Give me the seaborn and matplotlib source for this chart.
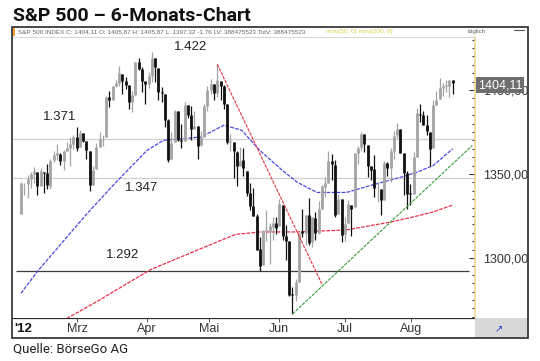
import matplotlib
matplotlib.use("Agg")
import matplotlib.pyplot as plt
import seaborn as sns
import pandas as pd
from matplotlib.patches import Rectangle

kurs_open = [
    1326.2, 1344.3, 1344.3, 1347.0, 1350.0, 1351.2, 1343.1, 1351.3, 1350.5, 1342.6, 1358.1, 1361.2, 1362.1, 1357.5, 1363.5, 1365.2, 1367.6, 1372.2,
    1365.9, 1374.1, 1369.6, 1363.6, 1343.4, 1352.7, 1365.9, 1370.8, 1371.9, 1395.9, 1394.2, 1402.6, 1404.2, 1409.6, 1405.5, 1402.9, 1392.8, 1397.1, 1416.6, 1412.5, 1405.4, 1403.3,
    1408.5, 1419.0, 1413.1, 1398.8, 1397.5, 1382.2, 1359.0, 1368.8, 1387.6, 1370.3, 1369.6, 1390.8, 1385.1, 1377.0, 1378.5, 1367.0, 1372.1, 1390.6, 1400.2, 1403.3,
    1397.9, 1405.5, 1402.3, 1391.5, 1368.8, 1369.2, 1363.2, 1354.6, 1358.1, 1351.9, 1338.4, 1330.8, 1324.8, 1305.1, 1295.7, 1316.1, 1316.0, 1318.7, 1320.6, 1318.9, 1331.3, 1313.1,
    1309.9, 1278.3, 1277.8, 1285.6, 1316.2, 1315.0, 1325.7, 1309.4, 1324.0, 1314.9, 1329.2, 1342.4, 1344.8, 1358.0, 1355.4, 1325.9, 1334.9, 1314.1, 1320.7, 1331.5, 1330.1,
    1362.3, 1365.8, 1373.7, 1367.1, 1354.7, 1353.0, 1341.4, 1341.3, 1334.8, 1356.5, 1353.7, 1363.6, 1373.0, 1376.5, 1362.3, 1350.5, 1338.4, 1338.2, 1360.1, 1385.9, 1385.3,
    1379.3, 1375.1, 1365.5, 1391.0, 1394.5, 1401.2, 1402.3, 1402.6, 1405.9,
]
kurs_high = [
    1345.3, 1344.4, 1349.2, 1351.0, 1354.3, 1351.2, 1353.4, 1351.3, 1355.9, 1359.0, 1363.4, 1367.8, 1362.7, 1364.2, 1368.9, 1371.9, 1373.1, 1378.0,
    1376.2, 1374.5, 1369.6, 1363.6, 1354.9, 1368.7, 1374.8, 1373.0, 1396.1, 1399.4, 1402.6, 1405.9, 1414.0, 1409.6, 1407.8, 1402.9, 1399.2, 1416.6, 1419.2, 1413.7, 1405.4, 1410.9,
    1422.4, 1419.0, 1413.1, 1401.6, 1397.5, 1383.0, 1374.7, 1388.1, 1387.6, 1379.7, 1392.8, 1390.8, 1390.5, 1387.4, 1378.5, 1375.6, 1391.4, 1402.1, 1406.6, 1403.3,
    1415.3, 1405.5, 1403.1, 1391.5, 1373.9, 1369.2, 1363.7, 1365.9, 1365.7, 1351.9, 1344.9, 1341.8, 1326.4, 1312.2, 1316.4, 1328.5, 1320.7, 1324.1, 1324.2, 1334.9, 1331.3, 1319.7,
    1309.9, 1282.6, 1287.6, 1315.1, 1329.1, 1325.8, 1335.5, 1324.3, 1327.3, 1333.7, 1343.3, 1348.2, 1363.5, 1361.6, 1358.3, 1337.8, 1334.9, 1324.2, 1334.4, 1331.5, 1362.2,
    1366.4, 1374.8, 1373.9, 1367.1, 1354.9, 1361.5, 1345.0, 1341.3, 1357.7, 1357.3, 1365.4, 1375.3, 1380.4, 1376.5, 1362.3, 1351.5, 1344.0, 1363.1, 1389.2, 1391.7, 1387.2,
    1385.0, 1375.1, 1394.2, 1399.6, 1407.1, 1404.1, 1406.0, 1406.0, 1405.9,
]
kurs_low = [
    1326.2, 1337.5, 1335.9, 1341.9, 1344.6, 1337.4, 1343.1, 1338.5, 1340.8, 1341.2, 1357.2, 1358.1, 1355.5, 1352.3, 1363.5, 1354.9, 1365.0, 1363.8,
    1365.9, 1368.9, 1359.1, 1340.0, 1343.4, 1352.7, 1365.9, 1366.7, 1371.9, 1389.7, 1394.2, 1401.5, 1402.4, 1397.7, 1400.6, 1388.7, 1386.9, 1397.1, 1411.9, 1398.6, 1391.6, 1401.4,
    1404.5, 1404.6, 1394.1, 1392.9, 1378.2, 1357.4, 1359.0, 1368.8, 1369.9, 1365.4, 1369.6, 1383.3, 1370.3, 1377.0, 1358.8, 1366.8, 1372.1, 1387.4, 1397.3, 1394.0,
    1395.7, 1393.9, 1388.7, 1368.0, 1363.9, 1347.8, 1343.1, 1354.6, 1348.9, 1336.6, 1328.4, 1324.8, 1304.9, 1292.0, 1295.7, 1310.0, 1296.5, 1310.5, 1314.2, 1318.9, 1310.8, 1298.9,
    1277.3, 1266.7, 1274.2, 1285.6, 1312.7, 1307.8, 1307.7, 1306.6, 1310.5, 1314.1, 1329.2, 1336.4, 1344.8, 1346.5, 1324.4, 1325.9, 1309.3, 1310.3, 1320.7, 1313.3, 1330.1,
    1355.7, 1363.5, 1363.0, 1348.0, 1346.7, 1336.3, 1333.2, 1325.4, 1334.8, 1348.5, 1345.1, 1359.0, 1371.2, 1362.2, 1337.6, 1329.2, 1331.5, 1338.2, 1360.1, 1381.0, 1379.2,
    1373.1, 1354.7, 1365.5, 1391.0, 1394.5, 1396.6, 1398.8, 1395.6, 1397.3,
]
kurs_close = [
    1344.9, 1344.3, 1347.1, 1350.0, 1352.0, 1342.6, 1351.8, 1350.5, 1343.2, 1358.0, 1361.2, 1362.2, 1357.7, 1363.5, 1365.7, 1367.6, 1372.2, 1365.7,
    1374.1, 1369.6, 1364.3, 1343.4, 1352.6, 1365.9, 1370.9, 1371.1, 1396.0, 1394.3, 1402.6, 1404.2, 1409.8, 1405.5, 1402.9, 1392.8, 1397.1, 1416.5, 1412.5, 1405.5, 1403.3, 1408.5,
    1419.0, 1413.4, 1399.0, 1398.1, 1382.2, 1358.6, 1368.7, 1387.6, 1370.3, 1369.6, 1390.8, 1385.1, 1376.9, 1378.5, 1366.9, 1372.0, 1390.7, 1400.0, 1403.4, 1397.9,
    1405.8, 1402.3, 1391.6, 1369.1, 1369.6, 1363.7, 1354.6, 1358.0, 1353.4, 1338.4, 1330.7, 1324.8, 1304.9, 1295.2, 1316.0, 1316.6, 1318.9, 1320.7, 1317.8, 1332.4, 1313.3, 1310.3,
    1278.0, 1278.2, 1285.5, 1315.1, 1315.0, 1325.7, 1308.9, 1324.2, 1314.9, 1329.1, 1342.8, 1344.8, 1358.0, 1355.7, 1325.5, 1335.0, 1313.7, 1320.0, 1331.9, 1329.0, 1362.2,
    1365.5, 1374.0, 1367.6, 1354.7, 1352.5, 1341.5, 1341.5, 1334.8, 1356.8, 1353.6, 1363.7, 1372.8, 1376.5, 1362.7, 1350.5, 1338.3, 1337.9, 1360.0, 1386.0, 1385.3, 1379.3,
    1375.3, 1365.0, 1391.0, 1394.2, 1401.4, 1402.2, 1402.8, 1405.9, 1404.1,
]

# gleitende Durchschnitte (Handelstag-Index, Kurs)
ma50_tag = [0, 5, 20, 29, 38.5, 43.5, 55, 62, 67.5, 73, 80, 84.5, 90.5, 99.5, 107.5, 116, 121, 126, 132]
ma50_wert = [1279, 1292, 1326, 1345, 1364, 1370, 1372, 1379, 1376, 1364, 1352, 1345, 1339, 1339, 1343.5, 1348, 1351, 1355, 1365]
ma200_tag = [14, 24, 39.5, 55.5, 65.5, 73, 84.5, 99.5, 113, 119, 126, 132]
ma200_wert = [1264, 1275, 1293, 1306, 1314, 1315.5, 1315.5, 1316.7, 1321.4, 1324, 1327.4, 1331.5]

# Trendlinien und Marken
abwaerts_tag = [60, 92]
abwaerts_wert = [1415.3, 1284.5]
aufwaerts_tag = [83, 138]
aufwaerts_wert = [1266.7, 1367.0]
marken = [1371, 1347.5]
unterstuetzung = 1292
labels_marke = ["1.422", "1.371", "1.347", "1.292"]
labels_pos = [(51.7, 1425.5), (11.9, 1384), (37, 1341.5), (30.9, 1301.5)]

monate = ["'12", "Mrz", "Apr", "Mai", "Jun", "Jul", "Aug"]
monat_pos = [-2.2, 17.1, 38.5, 57.5, 78.9, 99.1, 119.3]
y_ticks = [1300, 1350, 1400]

df = pd.DataFrame({"open": kurs_open, "high": kurs_high, "low": kurs_low, "close": kurs_close})
df["tag"] = range(len(df))
df["farbe"] = ["#111111" if c < o else "#a4a4a4" for o, c in zip(df["open"], df["close"])]

sns.set_style("white")
plt.rcParams["font.family"] = ["Liberation Sans", "DejaVu Sans"]

W, H = 540, 361
fig = plt.figure(figsize=(W / 100, H / 100), dpi=100)

def fx(px):
    return px / W

def fy(py):
    return 1 - py / H

xlim = (-2.45, 138.8)
ylim = (1264.3, 1431.5)

ax = fig.add_axes([fx(13), fy(318), fx(462), (318 - 37) / H])
ax.set_xlim(*xlim)
ax.set_ylim(*ylim)

# Marken-Linien
for m in marken:
    ax.axhline(m, color="#cfcfcf", lw=0.9, zorder=1)
ax.hlines(unterstuetzung, -1.5, 137, color="#3c3c3c", lw=0.9, zorder=1)

# Kerzen
ax.vlines(df["tag"], df["low"], df["high"], colors=df["farbe"], lw=0.9, zorder=3)
ax.vlines(df["tag"], df["open"], df["close"], colors=df["farbe"], lw=2.0, zorder=3)

# GD 50 / GD 200
sns.lineplot(x=ma50_tag, y=ma50_wert, ax=ax, color="#4a4ae0", lw=0.9, zorder=2)
sns.lineplot(x=ma200_tag, y=ma200_wert, ax=ax, color="#e8304a", lw=0.9, zorder=2)
ax.lines[-1].set_linestyle((0, (3, 1)))
ax.lines[-2].set_linestyle((0, (3, 1)))

# Trendlinien
ax.plot(abwaerts_tag, abwaerts_wert, color="#e83040", lw=0.8, ls=(0, (3, 1)), zorder=4)
ax.plot(aufwaerts_tag, aufwaerts_wert, color="#3a9a3a", lw=0.8, ls=(0, (3, 1)), zorder=4)

for txt, (tx, ty) in zip(labels_marke, labels_pos):
    ax.text(tx, ty, txt, ha="center", va="center", fontsize=9.5, color="#222222")

# y-Achse rechts
ax.yaxis.tick_right()
ax.set_yticks(y_ticks)
ax.set_yticklabels([f"{v},00" for v in y_ticks], fontsize=9, color="#333333")
ax.set_yticks(range(1265, 1431, 5), minor=True)
ax.tick_params(axis="y", which="major", direction="in", length=4, width=0.8, pad=6, color="#333333", right=True)
ax.tick_params(axis="y", which="minor", direction="in", length=2.5, width=0.8, color="#333333", right=True)
ax.tick_params(axis="x", bottom=False, labelbottom=False)
ax.spines["right"].set_color("#f0d890")
ax.spines["right"].set_linewidth(1.2)
ax.spines["top"].set_color("#d0d0d0")
ax.spines["top"].set_linewidth(0.6)
ax.spines["left"].set_visible(False)
ax.spines["bottom"].set_visible(False)

# Zeitleiste unten
ax2 = fig.add_axes([fx(13), fy(338), fx(462), 20 / H])
ax2.set_xlim(*xlim)
ax2.set_ylim(0, 1)
ax2.set_xticks([])
ax2.set_yticks([])
for s in ax2.spines.values():
    s.set_visible(False)
ax2.axhline(1, color="#2a2a2a", lw=1.6)
for lab, p in zip(monate, monat_pos):
    if lab == "'12":
        ax2.text(p, 0.45, lab, ha="left", va="center", fontsize=9.5, weight="bold", color="#111111")
    else:
        ax2.text(p, 0.45, lab, ha="center", va="center", fontsize=9, color="#333333")
        ax2.vlines(p, 0.78, 1, color="#555555", lw=0.7)

# Rahmen, Kopfzeile, Kursbox
fig.patches.append(Rectangle((fx(475), fy(338)), fx(53), 20 / H, transform=fig.transFigure,
                             facecolor="#d8d8d8", edgecolor="none", zorder=0))
fig.patches.append(Rectangle((fx(12), fy(338)), fx(516), (338 - 27) / H, transform=fig.transFigure,
                             facecolor="none", edgecolor="#3a3a3a", lw=1.3, zorder=5))
fig.patches.append(Rectangle((fx(13), fy(36)), fx(2), 8 / H, transform=fig.transFigure,
                             facecolor="#f0a030", edgecolor="none"))
fig.text(fx(499), fy(329), "\u2197", fontsize=7, color="#2040c0", ha="center", va="center")
fig.text(fx(18), fy(32), "S&P 500 INDEX C: 1404,11 O: 1405,87 H: 1405,87 L: 1397,32 -1,76 LV: 388475523 TotV: 388475523",
         fontsize=4.6, color="#666666", va="center")
fig.text(fx(326), fy(32), "mov(50, 0) mov(200, 0)", fontsize=4.6, color="#d8d040", va="center")
fig.text(fx(468), fy(32), "täglich", fontsize=4.6, color="#666666", va="center")
fig.lines.append(plt.Line2D([fx(514), fx(524)], [fy(30), fy(30)], transform=fig.transFigure, color="#555555", lw=0.8))
fig.text(fx(478), fy(85), "1404,11", fontsize=9, color="white", va="center", ha="left",
         bbox=dict(boxstyle="square,pad=0.15", facecolor="#6e6e6e", edgecolor="none"))

# Titel und Quelle
fig.text(fx(13), fy(21), "S&P 500 – 6-Monats-Chart", fontsize=14, weight="bold",
         family=["Roboto", "DejaVu Sans"], color="#111111", va="baseline")
fig.text(fx(13), fy(353), "Quelle: BörseGo AG", fontsize=9.5, family=["Roboto", "DejaVu Sans"],
         color="#222222", va="baseline")

fig.savefig("out.png", dpi=100)
